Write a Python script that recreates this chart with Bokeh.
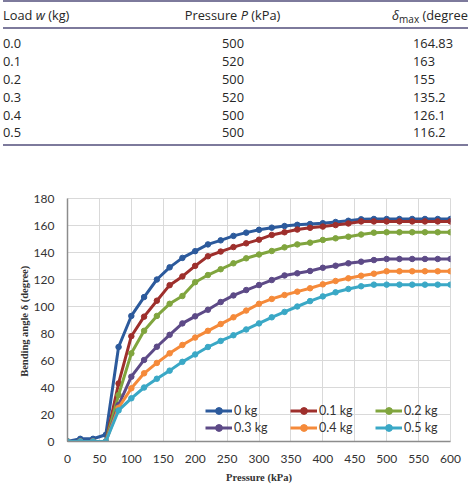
from bokeh.plotting import figure
from bokeh.models import Div, Legend, LegendItem, FixedTicker
from bokeh.layouts import column
from bokeh.embed import file_html
from bokeh.resources import INLINE

# ---------------- data ----------------
pressure = list(range(0, 601, 20))
series_names = ["0 kg", "0.1 kg", "0.2 kg", "0.3 kg", "0.4 kg", "0.5 kg"]
series_colors = ["#2C5A9C", "#9E2F2C", "#80A53E", "#5D4A87", "#F58A3A", "#3AA8C6"]

d_00 = [0, 2, 2, 5, 70, 93, 107, 120, 129, 136, 141, 146, 149, 152.3, 154.7, 156.8,
        158.4, 159.6, 160.5, 161.1, 161.7, 162.6, 163.5, 164.6,
        164.83, 164.83, 164.83, 164.83, 164.83, 164.83, 164.83]
d_01 = [0, 0, 0, 0, 43, 78, 92.5, 104.3, 115.8, 122.3, 130.1, 137.2, 140.7, 144, 146.8,
        149.5, 153, 155, 157, 158.3, 159.2, 160.3, 161.5, 163,
        163, 163, 163, 163, 163, 163, 163]
d_02 = [0, 0, 0, 0, 34.4, 65.3, 82, 93, 102, 107.8, 118, 123.3, 127.6, 132, 135.7,
        138.5, 141.1, 143.8, 146, 147.3, 149.3, 150.5, 151.7, 153.3, 154.7,
        155, 155, 155, 155, 155, 155]
d_03 = [0, 0, 0, 0, 27, 48, 60.4, 70.2, 79, 87.5, 92.7, 97.6, 103.3, 108.2, 112.2,
        115.9, 119.6, 123, 124.6, 126.3, 128.7, 130.2, 132, 133.2, 134.4,
        135.2, 135.2, 135.2, 135.2, 135.2, 135.2]
d_04 = [0, 0, 0, 0, 25, 39.4, 50.5, 58.2, 65.3, 71.5, 77, 82, 87, 92, 97,
        102, 105.6, 108.5, 111, 113.5, 116.4, 118.9, 120.9, 122.8, 124.3,
        126.1, 126.1, 126.1, 126.1, 126.1, 126.1]
d_05 = [0, 0, 0, 0, 23, 32, 40, 46.5, 52.5, 59, 64.5, 70, 74.5, 78.7, 83,
        87.5, 92, 96, 100, 104, 107.5, 110.5, 113, 115, 116.2,
        116.2, 116.2, 116.2, 116.2, 116.2, 116.2]
series_values = [d_00, d_01, d_02, d_03, d_04, d_05]

x_ticks = list(range(0, 601, 50))
y_ticks = list(range(0, 181, 20))

table_load = ["0.0", "0.1", "0.2", "0.3", "0.4", "0.5"]
table_pressure = ["500", "520", "500", "520", "500", "500"]
table_dmax = ["164.83", "163", "155", "135.2", "126.1", "116.2"]

# ---------------- table (HTML) ----------------
FONT = "'Open Sans', sans-serif"
TXT = "#262626"
RULE = "#7d7a9c"


def rule(top, h=2):
    return (f'<div style="position:absolute;left:3px;width:470px;top:{top}px;'
            f'height:{h}px;background:{RULE}"></div>')


def cell(x, cy, html, align="left"):
    if align == "center":
        return (f'<div style="position:absolute;left:{x-60}px;width:120px;top:{cy-10}px;'
                f'height:20px;line-height:20px;text-align:center;white-space:nowrap">{html}</div>')
    return (f'<div style="position:absolute;left:{x}px;top:{cy-10}px;height:20px;'
            f'line-height:20px;white-space:nowrap">{html}</div>')


parts = [rule(0), rule(26.5), rule(144)]
parts.append(cell(3, 15, 'Load <i>w</i> (kg)'))
parts.append(cell(232.5, 15, 'Pressure <i>P</i> (kPa)', "center"))
parts.append(cell(392, 15, '<i>&delta;</i><span style="font-size:10px;position:relative;top:3px">max</span> (degrees)'))
for i, (a, b, c) in enumerate(zip(table_load, table_pressure, table_dmax)):
    cy = 43.4 + 17.8 * i
    parts.append(cell(3, cy, a))
    parts.append(cell(233, cy, b, "center"))
    parts.append(cell(413, cy, c))

html = (f'<div style="position:relative;width:468px;height:160px;overflow:hidden;'
        f'font-family:{FONT};font-size:12.8px;color:{TXT};background:white">'
        + "".join(parts) + '</div>')
table = Div(text=html, width=468, height=160, margin=0)

# ---------------- chart ----------------
p = figure(width=468, height=328, x_range=(0, 600), y_range=(0, 180),
           output_backend="svg", toolbar_location=None,
           min_border_left=67, min_border_right=18, min_border_top=38, min_border_bottom=47)
p.background_fill_color = "white"
p.border_fill_color = "white"
p.outline_line_color = "#D9D9D9"
p.outline_line_width = 1

p.xaxis.ticker = FixedTicker(ticks=x_ticks)
p.yaxis.ticker = FixedTicker(ticks=y_ticks)
for g in (p.xgrid[0], p.ygrid[0]):
    g.grid_line_color = "#D9D9D9"
    g.grid_line_width = 1

for ax in (p.xaxis[0], p.yaxis[0]):
    ax.axis_line_color = "#8C8C8C"
    ax.axis_line_width = 1.5
    ax.major_tick_out = 0
    ax.major_tick_in = 0
    ax.minor_tick_out = 0
    ax.minor_tick_in = 0
    ax.major_label_text_font = "Lato"
    ax.major_label_text_font_size = "12px"
    ax.major_label_text_color = "#333333"
    ax.axis_label_text_font = "Liberation Serif"
    ax.axis_label_text_font_style = "bold"
    ax.axis_label_text_font_size = "10.5px"
    ax.axis_label_text_color = "#333333"

p.xaxis.axis_label = "Pressure (kPa)"
p.yaxis.axis_label = "Bending angle  \u03b4 (degree)"
p.xaxis.major_label_standoff = 13
p.xaxis.axis_label_standoff = 6
p.yaxis.major_label_standoff = 13
p.yaxis.axis_label_standoff = 1

items = []
for name, vals, color in zip(series_names, series_values, series_colors):
    r1 = p.line(pressure, vals, line_color=color, line_width=3)
    r2 = p.scatter(pressure, vals, size=5.5, fill_color=color, line_color=color)
    items.append(LegendItem(label=name, renderers=[r1, r2]))

legend = Legend(items=items, orientation="horizontal", ncols=3, location=(138, 5),
                border_line_alpha=0, background_fill_alpha=0, padding=0, margin=0,
                spacing=0, glyph_width=27, glyph_height=17, label_height=17,
                label_width=56, label_standoff=2, label_text_font="Lato",
                label_text_font_size="12.5px", label_text_color="#333333")
p.add_layout(legend)

layout = column(table, p, spacing=0)
open("out.html", "w").write(file_html(layout, INLINE))
